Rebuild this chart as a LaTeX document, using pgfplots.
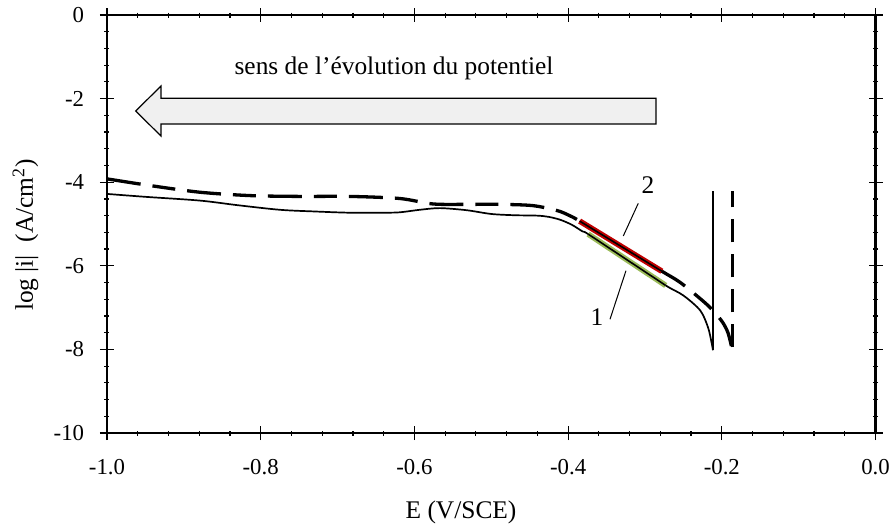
\documentclass[border=0pt]{standalone}
\usepackage{fontspec}
\setmainfont{Liberation Serif}
\usepackage{pgfplots}
\pgfplotsset{compat=1.18}
\definecolor{fitred}{HTML}{C00000}
\definecolor{fitgreen}{HTML}{9BBB59}
\begin{document}
\fontsize{12.7}{15}\selectfont
\begin{tikzpicture}
\useasboundingbox (-53.5pt,-46.5pt) rectangle (393pt,216.5pt);
\begin{axis}[
  scale only axis, width=384.25pt, height=209pt,
  xmin=-1, xmax=0, ymin=-10, ymax=0,
  axis line style={line width=1.1pt},
  tick style={line width=0.6pt, black},
  tick align=center,
  major tick length=7pt, minor tick length=2.5pt,
  xtick={-1,-0.8,-0.6,-0.4,-0.2,0},
  xticklabels={-1.0,-0.8,-0.6,-0.4,-0.2,0.0},
  ytick={-10,-8,-6,-4,-2,0},
  yticklabels={-10,-8,-6,-4,-2,0},
  minor tick num=4,
  /pgf/number format/assume math mode=true,
  ticklabel style={font=\fontsize{11.4}{13.5}\selectfont},
  xticklabel shift=5.3pt, yticklabel shift=3.5pt,
  xlabel={E (V/SCE)},
  ylabel={log |i|\ \ (A/cm\textsuperscript{2})},
  every axis x label/.style={at={(axis description cs:0.4607,0)}, anchor=base, yshift=-42.6pt, font=\fontsize{12.7}{15}\selectfont},
  every axis y label/.style={at={(axis description cs:-0.0963,0.4737)}, anchor=base, rotate=90, font=\fontsize{12.7}{15}\selectfont},
  clip=false,
]
% solid curve (1)
\addplot[black, line width=0.85pt, smooth, tension=0.5] coordinates {
(-1.000,-4.28) (-0.950,-4.35) (-0.879,-4.44) (-0.830,-4.55) (-0.775,-4.66)
(-0.730,-4.70) (-0.684,-4.73) (-0.640,-4.73) (-0.619,-4.72) (-0.593,-4.66)
(-0.567,-4.62) (-0.532,-4.67) (-0.500,-4.76) (-0.470,-4.79) (-0.440,-4.80)
(-0.425,-4.83) (-0.410,-4.90) (-0.395,-5.02) (-0.381,-5.18) (-0.374,-5.24)
(-0.320,-5.90) (-0.273,-6.47) (-0.250,-6.71) (-0.228,-7.07) (-0.218,-7.47)
(-0.2135,-7.82) (-0.2115,-8.02)
};
\addplot[black, line width=0.85pt] coordinates {(-0.2115,-8.02) (-0.2115,-4.21)};
% dashed curve (2)
\addplot[black, line width=1.65pt, dash pattern=on 17pt off 6pt on 11.5pt off 6pt, smooth, tension=0.5] coordinates {
(-1.000,-3.92) (-0.944,-4.08) (-0.879,-4.24) (-0.814,-4.32) (-0.749,-4.34)
(-0.684,-4.34) (-0.619,-4.39) (-0.576,-4.52) (-0.532,-4.53) (-0.489,-4.53)
(-0.446,-4.56) (-0.414,-4.68) (-0.398,-4.80) (-0.385,-4.93) (-0.330,-5.55)
(-0.278,-6.13) (-0.254,-6.40) (-0.224,-6.85) (-0.211,-7.08) (-0.199,-7.35)
(-0.192,-7.60) (-0.1875,-7.92)
};
\addplot[black, line width=1.65pt, dash pattern=on 11.5pt off 6pt] coordinates {(-0.1865,-7.95) (-0.1865,-4.21)};
% Tafel fits
\addplot[fitred, line width=2.8pt] coordinates {(-0.385,-4.93) (-0.278,-6.13)};
\addplot[black, line width=0.8pt] coordinates {(-0.385,-4.93) (-0.278,-6.13)};
\addplot[fitgreen, line width=2.8pt] coordinates {(-0.374,-5.24) (-0.273,-6.47)};
\addplot[black, line width=0.8pt] coordinates {(-0.374,-5.24) (-0.273,-6.47)};
% labels 1 and 2
\draw[line width=0.5pt] (axis cs:-0.3087,-4.505) -- (axis cs:-0.3282,-5.287);
\draw[line width=0.5pt] (axis cs:-0.3247,-6.117) -- (axis cs:-0.3455,-7.28);
\node at (axis cs:-0.296,-4.07) {2};
\node at (axis cs:-0.3624,-7.22) {1};
% arrow
\draw[line width=0.6pt, fill=black!6]
  (axis cs:-0.2856,-1.993) -- (axis cs:-0.9297,-1.993) -- (axis cs:-0.9297,-1.699)
  -- (axis cs:-0.9627,-2.297) -- (axis cs:-0.9297,-2.895) -- (axis cs:-0.9297,-2.608)
  -- (axis cs:-0.2856,-2.608) -- cycle;
\node[anchor=base] at (axis cs:-0.6265,-1.435) {sens de l’évolution du potentiel};
\end{axis}
\end{tikzpicture}
\end{document}
